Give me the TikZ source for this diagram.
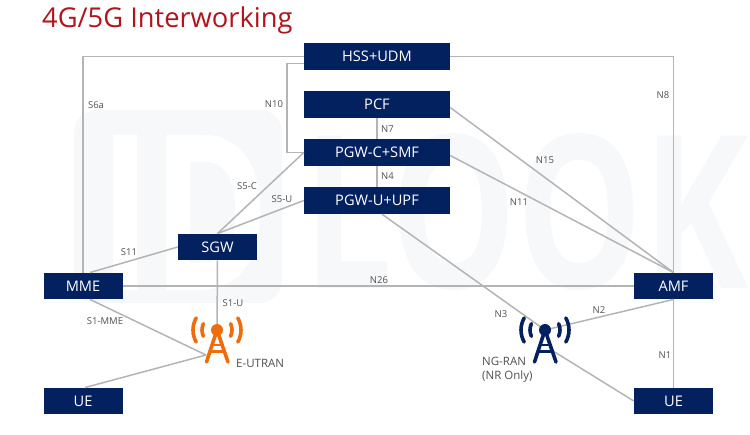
\documentclass[tikz,border=0pt]{standalone}
\usepackage{xcolor}
\usepackage{graphicx}
\usepackage{fontspec}
\setmainfont{Open Sans}
\definecolor{navy}{HTML}{03205F}
\definecolor{wire}{HTML}{B4B4B4}
\definecolor{titlered}{HTML}{B0141C}
\definecolor{labelgray}{HTML}{505050}
\definecolor{towerorange}{HTML}{F06C0A}
\definecolor{markgray}{HTML}{F7F8FA}
\tikzset{
  nf/.style={draw=none,fill=navy,text=white,font=\fontsize{14.6}{16}\selectfont,minimum width=79pt,minimum height=26.5pt,inner sep=0pt},
  core/.style={nf,minimum width=146pt,minimum height=27pt},
  wirel/.style={draw=wire,line width=1.5pt},
  iflabel/.style={text=labelgray,font=\fontsize{9.5}{11}\selectfont,inner sep=0pt},
  ranlabel/.style={text=labelgray,font=\fontsize{11.5}{14}\selectfont,inner sep=0pt,align=left},
  tower/.pic={
    \draw[line width=3.6pt,line cap=round] (-10.5,32) -- (0,0) -- (11,32);
    \draw[line width=2.8pt] (-5,15) -- (5,15) (-7,21.5) -- (7,21.5);
    \fill (0,0) circle (6pt);
    \foreach \s in {1,-1}{
      \draw[line width=3.6pt,line cap=round,xscale=\s] (-25:15) arc (-25:25:15);
      \draw[line width=3.6pt,line cap=round,xscale=\s] (-30:24) arc (-30:30:24);
    }
  }
}

\begin{document}
\begin{tikzpicture}[x=1pt,y=-1pt]
  \useasboundingbox (0,0) rectangle (750,435);
  % faint backdrop lettering
  \fill[markgray,rounded corners=22pt] (74,110) rectangle (282,303);
  \node[inner sep=0pt,text=white,font=\bfseries] (markid) at (185,212.5) {\resizebox{170pt}{155pt}{ID}};
  \node[inner sep=0pt,text=markgray,font=\bfseries] (marklook) at (526,212.5) {\resizebox{445pt}{155pt}{LOOK}};

  \node[anchor=base west,inner sep=0pt,text=titlered,font=\fontsize{27.3}{30}\selectfont] (title) at (42,28) {4G/5G Interworking};

  % network functions
  \node[core] (hss) at (377,56.5) {HSS+UDM};
  \node[core] (pcf) at (377,104.5) {PCF};
  \node[core] (smf) at (377,152.5) {PGW-C+SMF};
  \node[core] (upf) at (377,200.5) {PGW-U+UPF};
  \node[nf] (sgw) at (217.5,247) {SGW};
  \node[nf] (mme) at (83,286) {MME};
  \node[nf] (ue4) at (83,401) {UE};
  \node[nf] (amf) at (673.5,286) {AMF};
  \node[nf] (ue5) at (673.5,401) {UE};

  % radio sites and the points where lines meet them
  \coordinate (eutran) at (217,330);
  \coordinate (ngran) at (545,330);
  \coordinate (eutranfoot) at (206,355);
  \coordinate (ngfoot) at (553,351);

  % interfaces
  \draw[wirel] (hss.west) -| (mme.north);
  \draw[wirel] (hss.east) -| (amf.north);
  \draw[wirel] ([yshift=-7pt]hss.west) -- ++(-17,0) |- (smf.west);
  \draw[wirel] (pcf) -- (smf);
  \draw[wirel] (smf) -- (upf);
  \draw[wirel] ([yshift=-3pt]pcf.east) -- (amf.north);
  \draw[wirel] ([yshift=-3pt]smf.east) -- (amf.north);
  \draw[wirel] (smf.west) -- (sgw.north);
  \draw[wirel] (upf.west) -- (sgw.north);
  \draw[wirel] (sgw.west) -- ([xshift=7pt]mme.north);
  \draw[wirel] (sgw.south) -- (eutran);
  \draw[wirel] (mme.east) -- (amf.west);
  \draw[wirel] ([xshift=7pt]mme.south) -- (eutranfoot);
  \draw[wirel] ([xshift=2pt]ue4.north) -- (eutranfoot);
  \draw[wirel] ([xshift=5pt]upf.south) -- (ngran);
  \draw[wirel] (amf.south) -- (ngran);
  \draw[wirel] (ngfoot) -- (ue5.west);
  \draw[wirel] (amf.south) -- (ue5.north);

  \pic[color=towerorange] at (eutran) {tower};
  \pic[color=navy] at (ngran) {tower};

  \node[iflabel] (s6a) at (96,105) {S6a};
  \node[iflabel] (n10) at (274,104) {N10};
  \node[iflabel] (s5c) at (247,186) {S5-C};
  \node[iflabel] (s5u) at (282,199.5) {S5-U};
  \node[iflabel] (s11) at (129,252) {S11};
  \node[iflabel] (s1u) at (233,303) {S1-U};
  \node[iflabel] (s1mme) at (105,321) {S1-MME};
  \node[iflabel] (n26) at (379,280) {N26};
  \node[iflabel] (n7) at (387.5,129.5) {N7};
  \node[iflabel] (n4) at (387.5,176) {N4};
  \node[iflabel] (n15) at (545,160) {N15};
  \node[iflabel] (n11) at (519,202) {N11};
  \node[iflabel] (n8) at (663,95) {N8};
  \node[iflabel] (n3) at (501,314) {N3};
  \node[iflabel] (n2) at (599,310) {N2};
  \node[iflabel] (n1) at (665,355) {N1};
  \node[ranlabel,anchor=west] (eutranlabel) at (236,363) {E-UTRAN};
  \node[ranlabel,anchor=north west] (ngranlabel) at (482,357) {NG-RAN\\(NR Only)};
\end{tikzpicture}
\end{document}
